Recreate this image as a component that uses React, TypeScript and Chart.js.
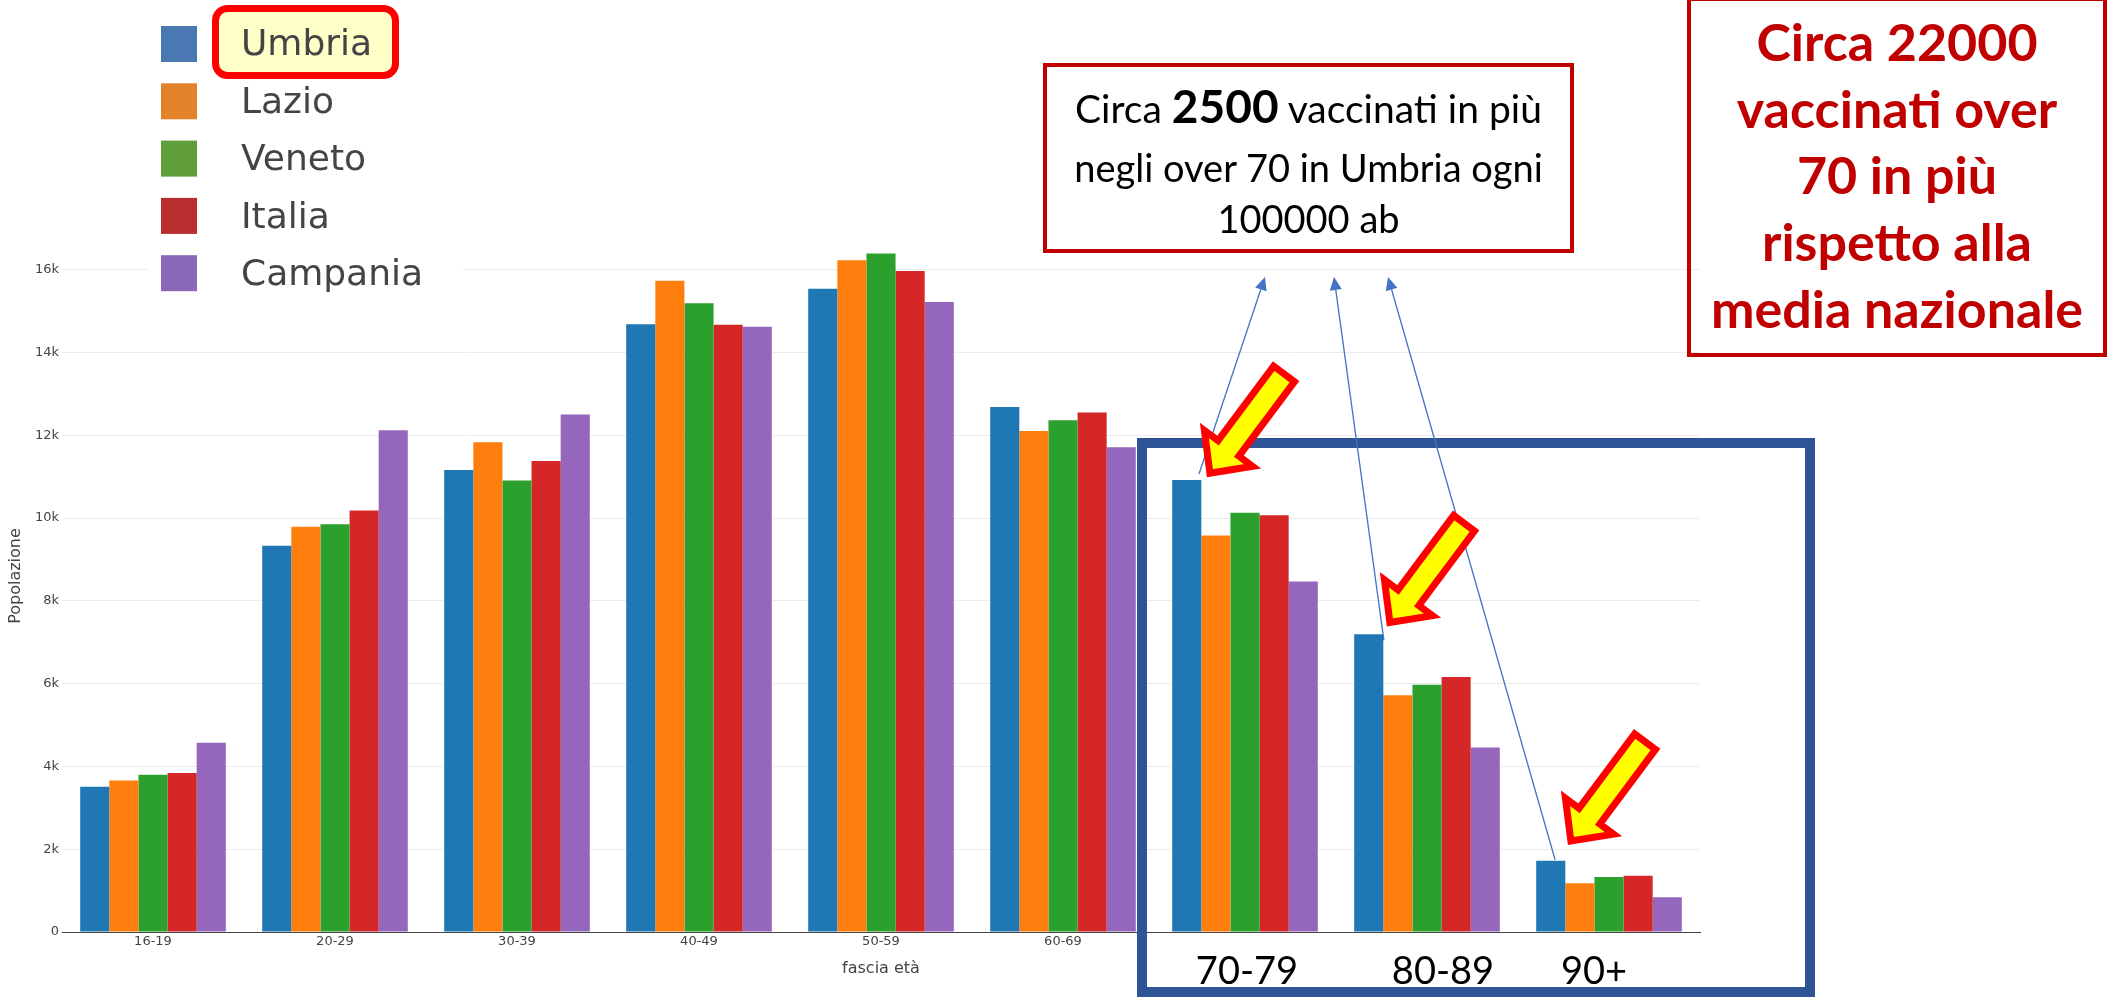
import React, { useEffect, useRef } from 'react';
import { Chart, registerables } from 'chart.js';

Chart.register(...registerables);

// ---------- data ----------
const categories = ['16-19', '20-29', '30-39', '40-49', '50-59', '60-69', '70-79', '80-89', '90+'];
const seriesNames = ['Umbria', 'Lazio', 'Veneto', 'Italia', 'Campania'];
const umbria = [3510, 9330, 11160, 14680, 15540, 12680, 10920, 7190, 1720];
const lazio = [3660, 9790, 11830, 15730, 16230, 12100, 9580, 5720, 1180];
const veneto = [3800, 9850, 10910, 15190, 16390, 12360, 10130, 5970, 1330];
const italia = [3840, 10180, 11380, 14670, 15970, 12550, 10070, 6160, 1360];
const campania = [4570, 12120, 12500, 14620, 15220, 11710, 8470, 4460, 840];
const seriesValues = [umbria, lazio, veneto, italia, campania];
const yTicks = [0, 2000, 4000, 6000, 8000, 10000, 12000, 14000, 16000];
const yTickLabels = ['0', '2k', '4k', '6k', '8k', '10k', '12k', '14k', '16k'];
const yMax = 17200;
const highlightedCategories = [6, 7, 8];

const box1Lines = ['negli over 70 in Umbria ogni', '100000 ab'];
const box2Lines = ['Circa 22000', 'vaccinati over', '70 in più', 'rispetto alla', 'media nazionale'];

// ---------- styles ----------
const barColors = ['#1f77b4', '#ff7f0e', '#2ca02c', '#d62728', '#9467bd'];
const legendColors = ['#4a78b2', '#e2822a', '#5f9e3a', '#b82d2d', '#8a69b8'];

// annotation layout (page pixels / offsets)
const pointerTips = [[1265, 277], [1334, 277], [1388, 277]];
const pointerStarts = [[0.42, -6], [0.52, 6], [0.15, -1]];
const yellowTipOffsets = [[5, -2], [3, -7], [2, -15]];
const bigLabelDx = [2, 16, -15];

const annotationPlugin = {
  id: 'annotations',
  afterDraw(chart: any) {
    const ctx = chart.ctx as CanvasRenderingContext2D;
    const meta = chart.getDatasetMeta(0);
    const xs = chart.scales.x;
    ctx.save();

    // navy frame
    ctx.strokeStyle = '#2F5597';
    ctx.lineWidth = 10;
    ctx.strokeRect(1142, 443, 668, 549);

    // big category labels
    ctx.fillStyle = '#000';
    ctx.font = '38px Lato';
    ctx.textAlign = 'center';
    ctx.textBaseline = 'alphabetic';
    highlightedCategories.forEach((ci, k) => {
      ctx.fillText(categories[ci], xs.getPixelForValue(ci) + bigLabelDx[k], 984);
    });

    // thin blue pointers
    highlightedCategories.forEach((ci, k) => {
      const bar = meta.data[ci];
      const sx = bar.x + bar.width * pointerStarts[k][0];
      const sy = bar.y + pointerStarts[k][1];
      const [tx, ty] = pointerTips[k];
      const dx = tx - sx, dy = ty - sy;
      const len = Math.hypot(dx, dy);
      const ux = dx / len, uy = dy / len;
      const hl = 13, hw = 6;
      ctx.strokeStyle = '#4472C4';
      ctx.lineWidth = 1.3;
      ctx.beginPath();
      ctx.moveTo(sx, sy);
      ctx.lineTo(tx - ux * hl, ty - uy * hl);
      ctx.stroke();
      ctx.fillStyle = '#4472C4';
      ctx.beginPath();
      ctx.moveTo(tx, ty);
      ctx.lineTo(tx - ux * hl - uy * hw, ty - uy * hl + ux * hw);
      ctx.lineTo(tx - ux * hl + uy * hw, ty - uy * hl - ux * hw);
      ctx.closePath();
      ctx.fill();
    });

    // yellow block arrows
    const u = [0.598, -0.801];
    const n = [0.801, 0.598];
    const shape = [[6, 0], [37, -30], [37, -13], [130, -13], [130, 13], [37, 13], [37, 30]];
    highlightedCategories.forEach((ci, k) => {
      const bar = meta.data[ci];
      const tx = bar.x + bar.width / 2 + yellowTipOffsets[k][0];
      const ty = bar.y + yellowTipOffsets[k][1];
      ctx.beginPath();
      shape.forEach(([a, b], i) => {
        const px = tx + a * u[0] + b * n[0];
        const py = ty + a * u[1] + b * n[1];
        if (i === 0) ctx.moveTo(px, py); else ctx.lineTo(px, py);
      });
      ctx.closePath();
      ctx.fillStyle = '#FFFF00';
      ctx.fill();
      ctx.strokeStyle = '#FF0000';
      ctx.lineWidth = 7;
      ctx.lineJoin = 'miter';
      ctx.miterLimit = 10;
      ctx.stroke();
    });

    ctx.restore();
  },
};

export default function App() {
  const canvasRef = useRef<HTMLCanvasElement | null>(null);

  useEffect(() => {
    if (!canvasRef.current) return;
    Chart.defaults.font.family = "'DejaVu Sans', Verdana, sans-serif";
    const chart = new Chart(canvasRef.current, {
      type: 'bar',
      data: {
        labels: categories,
        datasets: seriesNames.map((name, i) => ({
          label: name,
          data: seriesValues[i],
          backgroundColor: barColors[i],
          borderWidth: 0,
          categoryPercentage: 0.8,
          barPercentage: 1.0,
        })),
      },
      options: {
        animation: false,
        responsive: false,
        devicePixelRatio: 1,
        layout: { padding: { top: 220, right: 412, left: 0, bottom: 0 } },
        plugins: {
          legend: { display: false },
          tooltip: { enabled: false },
        },
        scales: {
          x: {
            type: 'category',
            grid: { display: false, drawTicks: false },
            border: { display: true, color: '#444', width: 1 },
            ticks: {
              color: '#444',
              font: { size: 13 },
              padding: 2,
              maxRotation: 0,
              autoSkip: false,
              callback: (_v: any, i: number) => (highlightedCategories.includes(i) ? '' : categories[i]),
            },
            title: {
              display: true,
              text: 'fascia età',
              color: '#444',
              font: { size: 16 },
              padding: { top: 0, bottom: 20 },
            },
            afterFit: (s: any) => { s.height = 66; },
          },
          y: {
            min: 0,
            max: yMax,
            grid: { color: '#ececec', lineWidth: 1, drawTicks: false },
            border: { display: false },
            afterBuildTicks: (s: any) => { s.ticks = yTicks.map((v) => ({ value: v })); },
            ticks: {
              color: '#444',
              font: { size: 13 },
              padding: 3,
              autoSkip: false,
              callback: (v: any) => yTickLabels[yTicks.indexOf(Number(v))] ?? '',
            },
            title: {
              display: true,
              text: 'Popolazione',
              color: '#444',
              font: { size: 16 },
              padding: { top: 6, bottom: 0 },
            },
            afterFit: (s: any) => { s.width = 62; },
          },
        },
      },
      plugins: [annotationPlugin],
    } as any);
    return () => chart.destroy();
  }, []);

  return (
    <div style={{ position: 'fixed', left: 0, top: 0, width: 2112, height: 998, background: '#fff', overflow: 'hidden' }}>
      <canvas ref={canvasRef} width={2112} height={998} style={{ position: 'absolute', left: 0, top: 0, display: 'block' }} />
      <svg width={2112} height={998} style={{ position: 'absolute', left: 0, top: 0, pointerEvents: 'none' }}>
        {/* legend */}
        <rect x={148} y={0} width={314} height={345} fill="#fff" />
        {seriesNames.map((name, i) => (
          <rect key={'sq' + name} x={161} y={26 + 57.3 * i} width={36} height={36} fill={legendColors[i]} />
        ))}
        <rect x={215.5} y={8.5} width={180} height={67} rx={12} ry={12} fill="#FFFFC8" stroke="#FF0000" strokeWidth={7} />
        {seriesNames.map((name, i) => (
          <text key={'lt' + name} x={241} y={55 + 57.5 * i} fontFamily="'DejaVu Sans', Verdana, sans-serif" fontSize={36} fill="#444">{name}</text>
        ))}

        {/* box 1 */}
        <rect x={1045} y={65} width={527} height={186} fill="#fff" stroke="#C00000" strokeWidth={4} />
        <text x={1308.5} y={122.7} textAnchor="middle" fontFamily="Lato, 'Open Sans', sans-serif" fontSize={39} fill="#000">
          Circa <tspan fontWeight="bold" fontSize={46}>2500</tspan> vaccinati in più
        </text>
        {box1Lines.map((line, i) => (
          <text key={'b1' + i} x={1308.5} y={[181.7, 233.3][i]} textAnchor="middle" fontFamily="Lato, 'Open Sans', sans-serif" fontSize={38} fill="#000">{line}</text>
        ))}

        {/* box 2 */}
        <rect x={1689} y={-1} width={416} height={356} fill="none" stroke="#C00000" strokeWidth={4} />
        {box2Lines.map((line, i) => (
          <text key={'b2' + i} x={1897} y={61 + 66.7 * i} textAnchor="middle" fontFamily="Lato, 'Open Sans', sans-serif" fontWeight="bold" fontSize={52} fill="#C00000">{line}</text>
        ))}
      </svg>
    </div>
  );
}
